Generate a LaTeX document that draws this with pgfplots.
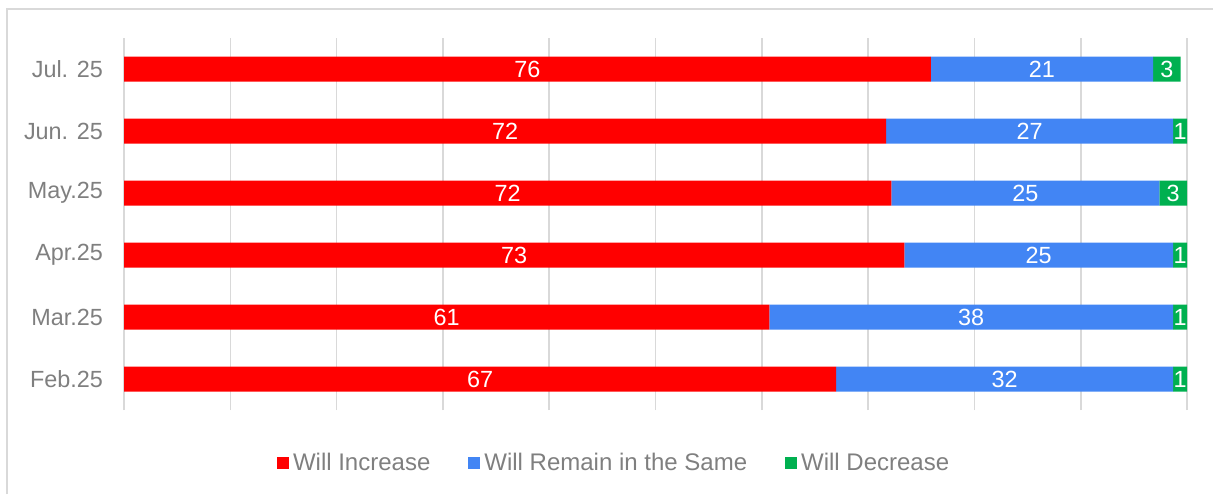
\documentclass[border=0pt]{standalone}
\usepackage{fontspec}
\setmainfont{Liberation Sans}
\usepackage{pgfplots}
\usepackage{pgfplotstable}
\pgfplotsset{compat=1.18}
\definecolor{cRed}{HTML}{FF0000}
\definecolor{cBlue}{HTML}{4285F4}
\definecolor{cGreen}{HTML}{00B050}
\definecolor{txtgray}{HTML}{7F7F7F}
\definecolor{gridgray}{HTML}{D9D9D9}

\pgfplotstableread{
cat inc same dec
0 67.0 31.7 1.3
1 60.7 38.0 1.3
2 73.4 25.3 1.3
3 72.2 25.2 2.6
4 71.7 27.0 1.3
5 75.9 20.9 2.6
}\data

\begin{document}
\begin{tikzpicture}[x=1pt,y=1pt]
\path[use as bounding box] (0,0) rectangle (606.5,247);
\draw[gridgray, line width=0.7pt] (3.5,0) -- (3.5,242.5) -- (606.5,242.5);
\begin{axis}[
  at={(62pt,42pt)}, anchor=south west, scale only axis,
  width=531.5pt, height=186pt,
  xbar stacked, bar width=12.5pt,
  xmin=0, xmax=100, ymin=-0.5, ymax=5.5,
  xtick={0,10,...,100}, xticklabels={},
  xmajorgrids, major grid style={gridgray, line width=0.8pt},
  major tick length=0pt,
  axis line style={draw=none},
  ytick={0,...,5},
  yticklabels={Feb.25,Mar.25,Apr.25,May.25,Jun. 25,Jul. 25},
  yticklabel style={font=\fontsize{11.7}{13}\selectfont, text=txtgray, xshift=-7pt},
  visualization depends on=rawx \as \rawx,
  nodes near coords={\pgfmathprintnumber[fixed,precision=0,assume math mode=true]{\rawx}},
  nodes near coords style={font=\fontsize{11.7}{13}\selectfont, text=white, anchor=center},
  legend columns=3,
  legend style={at={(0.462,-0.1425)}, anchor=center, draw=none, fill=none,
    font=\fontsize{12}{14}\selectfont, text=txtgray,
    /tikz/every even column/.append style={column sep=17pt},
    inner sep=0pt},
  legend image code/.code={\fill[#1] (0pt,-3pt) rectangle (6pt,3pt);},
]
\addplot[fill=cRed, draw=none] table[x=inc, y=cat] {\data};
\addplot[fill=cBlue, draw=none] table[x=same, y=cat] {\data};
\addplot[fill=cGreen, draw=none] table[x=dec, y=cat] {\data};
\legend{Will Increase, Will Remain in the Same, Will Decrease}
\end{axis}
\end{tikzpicture}
\end{document}
